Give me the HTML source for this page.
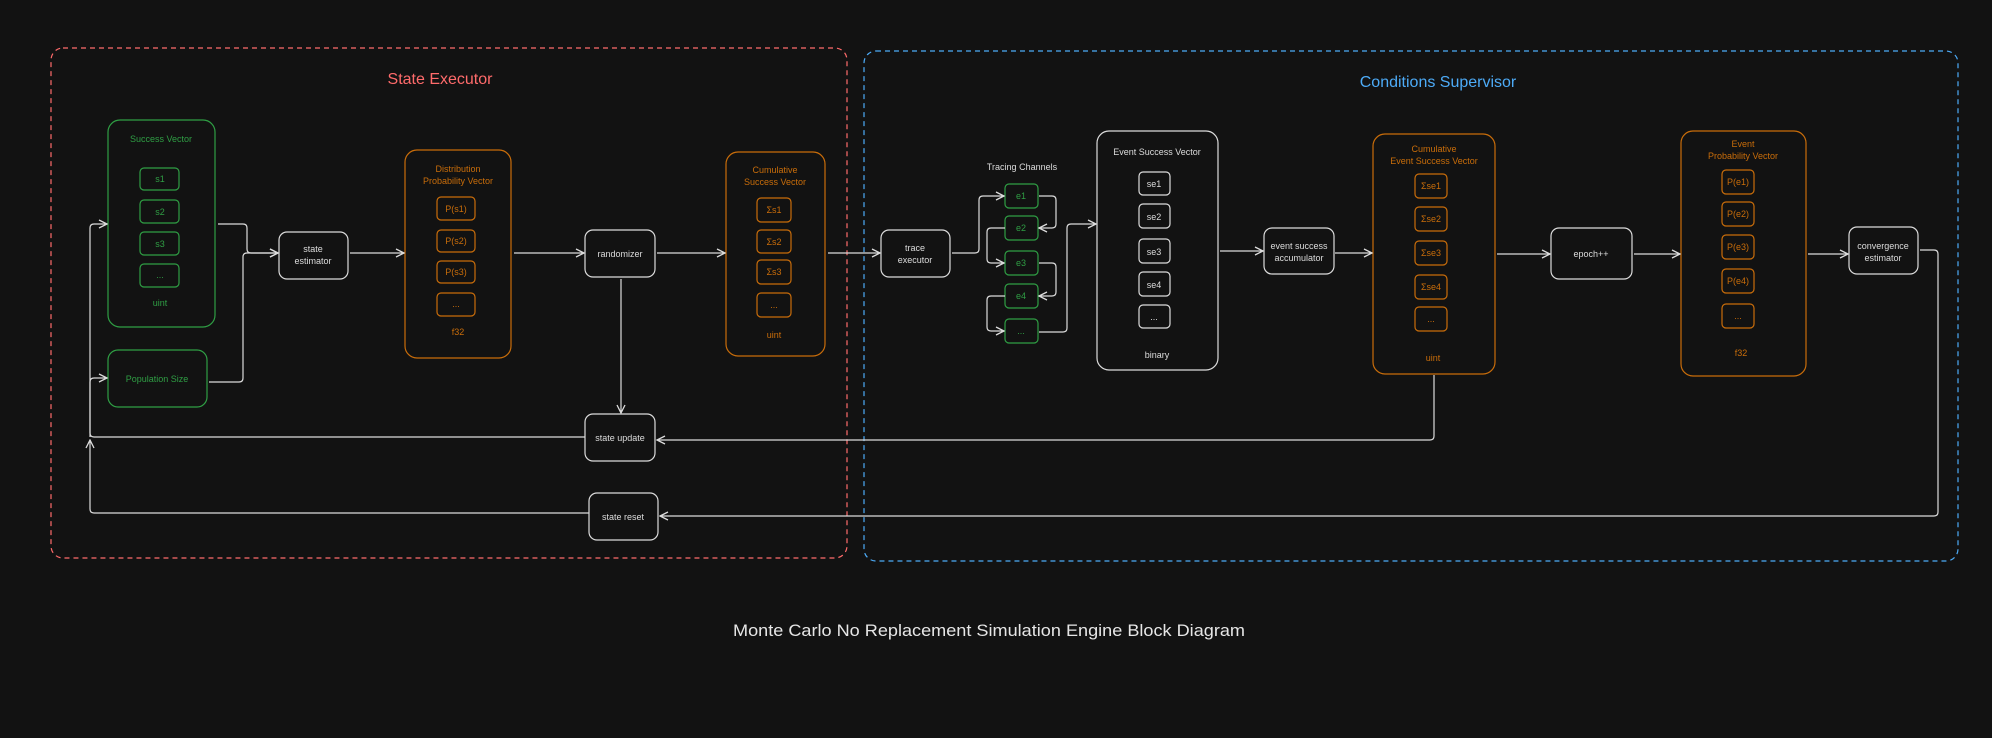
<!DOCTYPE html>
<html><head><meta charset="utf-8"><style>
html,body{margin:0;padding:0;background:#121212;}
svg{display:block;}
text{font-family:"Liberation Sans",sans-serif;}
</style></head><body>
<svg width="1992" height="738" viewBox="0 0 1992 738" xmlns="http://www.w3.org/2000/svg">
<defs>
<marker id="a" markerWidth="10" markerHeight="10" refX="9" refY="5" orient="auto" markerUnits="userSpaceOnUse">
<path d="M1,1 L9,5 L1,9" fill="none" stroke="#dcdcdc" stroke-width="1.3"/>
</marker>
</defs>
<rect width="1992" height="738" fill="#121212"/>
<!-- groups -->
<rect x="51" y="48" width="796" height="510" rx="12" fill="none" stroke="#ff6b6b" stroke-width="1.2" stroke-dasharray="5,4"/>
<rect x="864" y="51" width="1094" height="510" rx="12" fill="none" stroke="#4dabf7" stroke-width="1.2" stroke-dasharray="5,4"/>
<text x="440" y="84" fill="#ff6b6b" font-size="16" text-anchor="middle">State Executor</text>
<text x="1438" y="87" fill="#4dabf7" font-size="16" text-anchor="middle">Conditions Supervisor</text>

<g font-size="9" text-anchor="middle">
<!-- Success vector -->
<g stroke="#2f9e44" fill="none" stroke-width="1.2">
<rect x="108" y="120" width="107" height="207" rx="12"/>
<rect x="140" y="168" width="39" height="22" rx="4"/>
<rect x="140" y="200" width="39" height="23" rx="4"/>
<rect x="140" y="232" width="39" height="23" rx="4"/>
<rect x="140" y="264" width="39" height="23" rx="4"/>
<rect x="108" y="350" width="99" height="57" rx="10"/>
</g>
<g fill="#2f9e44">
<text x="161" y="142">Success Vector</text>
<text x="160" y="182">s1</text><text x="160" y="215">s2</text><text x="160" y="247">s3</text><text x="160" y="278">...</text>
<text x="160" y="306">uint</text>
<text x="157" y="382">Population Size</text>
</g>
<!-- Distribution -->
<g stroke="#c96d0a" fill="none" stroke-width="1.2">
<rect x="405" y="150" width="106" height="208" rx="12"/>
<rect x="437" y="197" width="38" height="23" rx="4"/>
<rect x="437" y="230" width="38" height="22" rx="4"/>
<rect x="437" y="261" width="38" height="22" rx="4"/>
<rect x="437" y="293" width="38" height="23" rx="4"/>
<rect x="726" y="152" width="99" height="204" rx="12"/>
<rect x="757" y="198" width="34" height="24" rx="4"/>
<rect x="757" y="230" width="34" height="23" rx="4"/>
<rect x="757" y="260" width="34" height="24" rx="4"/>
<rect x="757" y="293" width="34" height="24" rx="4"/>
<rect x="1373" y="134" width="122" height="240" rx="12"/>
<rect x="1415" y="174" width="32" height="24" rx="4"/>
<rect x="1415" y="207" width="32" height="24" rx="4"/>
<rect x="1415" y="241" width="32" height="24" rx="4"/>
<rect x="1415" y="275" width="32" height="24" rx="4"/>
<rect x="1415" y="307" width="32" height="24" rx="4"/>
<rect x="1681" y="131" width="125" height="245" rx="12"/>
<rect x="1722" y="170" width="32" height="24" rx="4"/>
<rect x="1722" y="202" width="32" height="24" rx="4"/>
<rect x="1722" y="235" width="32" height="24" rx="4"/>
<rect x="1722" y="269" width="32" height="24" rx="4"/>
<rect x="1722" y="304" width="32" height="24" rx="4"/>
</g>
<g fill="#c96d0a">
<text x="458" y="172">Distribution</text><text x="458" y="184">Probability Vector</text>
<text x="456" y="212">P(s1)</text><text x="456" y="244">P(s2)</text><text x="456" y="275">P(s3)</text><text x="456" y="307">...</text>
<text x="458" y="335">f32</text>
<text x="775" y="173">Cumulative</text><text x="775" y="185">Success Vector</text>
<text x="774" y="213">Σs1</text><text x="774" y="245">Σs2</text><text x="774" y="275">Σs3</text><text x="774" y="308">...</text>
<text x="774" y="338">uint</text>
<text x="1434" y="152">Cumulative</text><text x="1434" y="164">Event Success Vector</text>
<text x="1431" y="189">Σse1</text><text x="1431" y="222">Σse2</text><text x="1431" y="256">Σse3</text><text x="1431" y="290">Σse4</text><text x="1431" y="322">...</text>
<text x="1433" y="361">uint</text>
<text x="1743" y="147">Event</text><text x="1743" y="159">Probability Vector</text>
<text x="1738" y="185">P(e1)</text><text x="1738" y="217">P(e2)</text><text x="1738" y="250">P(e3)</text><text x="1738" y="284">P(e4)</text><text x="1738" y="319">...</text>
<text x="1741" y="356">f32</text>
</g>
<!-- tracing channels -->
<g stroke="#2f9e44" fill="none" stroke-width="1.2">
<rect x="1005" y="184" width="33" height="24" rx="4"/>
<rect x="1005" y="216" width="33" height="24" rx="4"/>
<rect x="1005" y="251" width="33" height="24" rx="4"/>
<rect x="1005" y="284" width="33" height="24" rx="4"/>
<rect x="1005" y="319" width="33" height="24" rx="4"/>
</g>
<g fill="#2f9e44">
<text x="1021" y="199">e1</text><text x="1021" y="231">e2</text><text x="1021" y="266">e3</text><text x="1021" y="299">e4</text><text x="1021" y="334">...</text>
</g>
<!-- white boxes -->
<g stroke="#dcdcdc" fill="none" stroke-width="1.2">
<rect x="279" y="232" width="69" height="47" rx="8"/>
<rect x="585" y="230" width="70" height="47" rx="8"/>
<rect x="585" y="414" width="70" height="47" rx="8"/>
<rect x="589" y="493" width="69" height="47" rx="8"/>
<rect x="881" y="230" width="69" height="47" rx="8"/>
<rect x="1097" y="131" width="121" height="239" rx="12"/>
<rect x="1139" y="172" width="31" height="23" rx="4"/>
<rect x="1139" y="204" width="31" height="24" rx="4"/>
<rect x="1139" y="239" width="31" height="24" rx="4"/>
<rect x="1139" y="272" width="31" height="24" rx="4"/>
<rect x="1139" y="305" width="31" height="23" rx="4"/>
<rect x="1264" y="228" width="70" height="46" rx="8"/>
<rect x="1551" y="228" width="81" height="51" rx="8"/>
<rect x="1849" y="227" width="69" height="47" rx="8"/>
</g>
<g fill="#dcdcdc">
<text x="313" y="252">state</text><text x="313" y="264">estimator</text>
<text x="620" y="257">randomizer</text>
<text x="620" y="441">state update</text>
<text x="623" y="520">state reset</text>
<text x="915" y="251">trace</text><text x="915" y="263">executor</text>
<text x="1022" y="170">Tracing Channels</text>
<text x="1157" y="155">Event Success Vector</text>
<text x="1154" y="187">se1</text><text x="1154" y="220">se2</text><text x="1154" y="255">se3</text><text x="1154" y="288">se4</text><text x="1154" y="320">...</text>
<text x="1157" y="358">binary</text>
<text x="1299" y="249">event success</text><text x="1299" y="261">accumulator</text>
<text x="1591" y="257">epoch++</text>
<text x="1883" y="249">convergence</text><text x="1883" y="261">estimator</text>
</g>
</g>
<!-- connectors -->
<g stroke="#dcdcdc" fill="none" stroke-width="1.2" marker-end="url(#a)">
<path d="M218,224 H243 Q247,224 247,228 V249 Q247,253 251,253 H278"/>
<path d="M209,382 H239 Q243,382 243,378 V257 Q243,253 247,253 H278"/>
<path d="M350,253 H404"/>
<path d="M514,253 H584"/>
<path d="M657,253 H725"/>
<path d="M828,253 H880"/>
<path d="M621,279 V413"/>
<path d="M585,437 H94 Q90,437 90,433 V228 Q90,224 94,224 H107"/>
<path d="M90,437 V382 Q90,378 94,378 H107"/>
<path d="M589,513 H94 Q90,513 90,509 V440"/>
<path d="M1434,375 V436 Q1434,440 1430,440 H657"/>
<path d="M1920,250 H1934 Q1938,250 1938,254 V512 Q1938,516 1934,516 H660"/>
<path d="M952,253 H975 Q979,253 979,249 V200 Q979,196 983,196 H1004"/>
<path d="M1039,196 H1052 Q1056,196 1056,200 V224 Q1056,228 1052,228 H1039"/>
<path d="M1005,228 H991 Q987,228 987,232 V259 Q987,263 991,263 H1004"/>
<path d="M1039,263 H1052 Q1056,263 1056,267 V292 Q1056,296 1052,296 H1039"/>
<path d="M1005,296 H991 Q987,296 987,300 V327 Q987,331 991,331 H1004"/>
<path d="M1039,332 H1063 Q1067,332 1067,328 V228 Q1067,224 1071,224 H1096"/>
<path d="M1220,251 H1263"/>
<path d="M1335,253 H1372"/>
<path d="M1497,254 H1550"/>
<path d="M1634,254 H1680"/>
<path d="M1808,254 H1848"/>
</g>
<text x="989" y="636" fill="#e6e6e6" font-size="17" text-anchor="middle" textLength="512" lengthAdjust="spacingAndGlyphs">Monte Carlo No Replacement Simulation Engine Block Diagram</text>
</svg>
</body></html>
